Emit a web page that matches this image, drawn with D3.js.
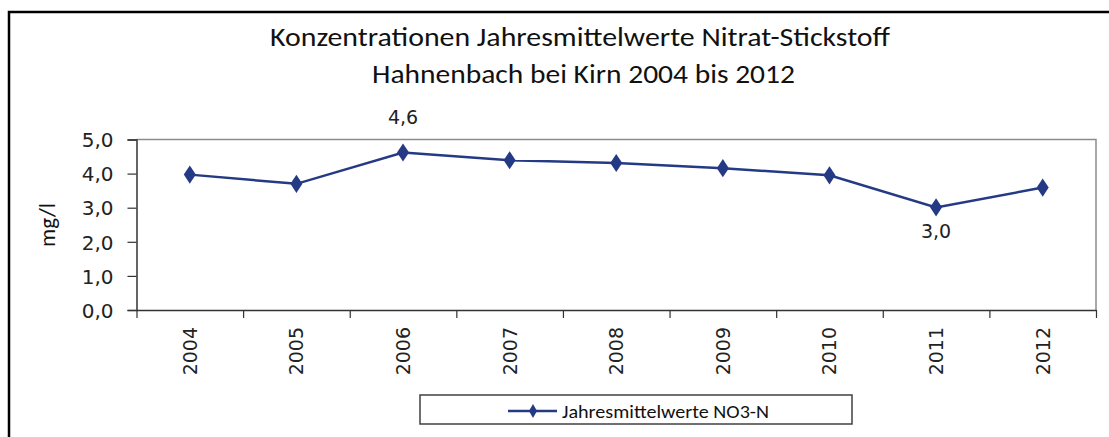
<!DOCTYPE html>
<html>
<head>
<meta charset="utf-8">
<script src="https://cdn.jsdelivr.net/npm/d3@7"></script>
<style>
  body { margin: 0; background: #fff; }
  svg { display: block; }
</style>
</head>
<body>
<svg id="chart" width="1109" height="437"></svg>
<script>
// data
const years = ["2004", "2005", "2006", "2007", "2008", "2009", "2010", "2011", "2012"];
const no3n = [3.97, 3.70, 4.62, 4.39, 4.31, 4.16, 3.95, 3.01, 3.59];
const yTicks = [0, 1, 2, 3, 4, 5];
const labelled = ["2006", "2011"]; // points with a value label
const titleLines = ["Konzentrationen Jahresmittelwerte Nitrat-Stickstoff", "Hahnenbach bei Kirn 2004 bis 2012"];
const seriesName = "Jahresmittelwerte NO3-N";

const navy = "#243a84";
const calibri = "Calibri, Carlito, 'Open Sans', sans-serif";
const verdana = "Verdana, 'DejaVu Sans', sans-serif";

const de = d3.formatLocale({ decimal: ",", thousands: ".", grouping: [3], currency: ["", " €"] });
const fmt = de.format(".1f");

const svg = d3.select("#chart");

// outer frame (right and bottom edges run off the picture)
svg.append("rect")
  .attr("x", 9).attr("y", 12)
  .attr("width", 1120).attr("height", 440)
  .attr("fill", "#fff")
  .attr("stroke", "#000")
  .attr("stroke-width", 2.5);

const plot = { left: 136.5, right: 1096, top: 139.5, bottom: 310 };

const x = d3.scaleBand().domain(years).range([plot.left, plot.right]).padding(0);
const xEdges = d3.scaleLinear().domain([0, years.length]).range([plot.left, plot.right]);
const y = d3.scaleLinear().domain([0, 5]).range([plot.bottom, plot.top]);

// title
const title = svg.append("g").attr("font-family", calibri).attr("font-size", 26).attr("fill", "#111");
title.append("text")
  .attr("x", 580).attr("y", 46)
  .attr("text-anchor", "middle")
  .attr("textLength", 620).attr("lengthAdjust", "spacingAndGlyphs")
  .text(titleLines[0]);
title.append("text")
  .attr("x", 583.5).attr("y", 83)
  .attr("text-anchor", "middle")
  .attr("textLength", 423).attr("lengthAdjust", "spacingAndGlyphs")
  .text(titleLines[1]);

// plot area frame: grey top and right
svg.append("path")
  .attr("d", `M${plot.left},${plot.top}H${plot.right}V${plot.bottom}`)
  .attr("fill", "none")
  .attr("stroke", "#8c8c8c")
  .attr("stroke-width", 1.5);

// y axis
const yAxis = svg.append("g")
  .attr("transform", `translate(${plot.left},0)`)
  .call(d3.axisLeft(y).tickValues(yTicks).tickFormat(fmt).tickSize(9).tickPadding(14));
yAxis.select(".domain").attr("stroke", "#333").attr("stroke-width", 1.5);
yAxis.selectAll(".tick line").attr("stroke", "#333").attr("stroke-width", 1.2);
yAxis.selectAll(".tick text")
  .attr("font-family", verdana).attr("font-size", 20).attr("fill", "#222")
  .attr("dy", "0.36em");

// x axis: ticks on category edges, labels at centres
const xAxis = svg.append("g")
  .attr("transform", `translate(0,${plot.bottom})`)
  .call(d3.axisBottom(xEdges).tickValues(d3.range(years.length + 1)).tickFormat("").tickSize(8).tickSizeOuter(0));
xAxis.select(".domain").attr("stroke", "#333").attr("stroke-width", 1.5);
xAxis.selectAll(".tick line").attr("stroke", "#333").attr("stroke-width", 1.2);

svg.append("g")
  .selectAll("text")
  .data(years)
  .join("text")
  .attr("transform", d => `translate(${x(d) + x.bandwidth() / 2 + 7},327) rotate(-90)`)
  .attr("text-anchor", "end")
  .attr("font-family", verdana).attr("font-size", 19).attr("fill", "#222")
  .text(d => d);

// y axis title
svg.append("text")
  .attr("transform", "translate(55,225) rotate(-90)")
  .attr("text-anchor", "middle")
  .attr("font-family", calibri).attr("font-size", 23).attr("fill", "#111")
  .attr("textLength", 44).attr("lengthAdjust", "spacingAndGlyphs")
  .text("mg/l");

// series
const pts = years.map((yr, i) => ({ year: yr, value: no3n[i] }));
const cx = d => x(d.year) + x.bandwidth() / 2;

svg.append("path")
  .datum(pts)
  .attr("fill", "none")
  .attr("stroke", navy)
  .attr("stroke-width", 2.5)
  .attr("d", d3.line().x(cx).y(d => y(d.value)));

const diamond = d3.symbol().type(d3.symbolDiamond).size(95);
svg.append("g")
  .selectAll("path")
  .data(pts)
  .join("path")
  .attr("transform", d => `translate(${cx(d)},${y(d.value)}) scale(1.15,1)`)
  .attr("d", diamond)
  .attr("fill", navy);

// value labels (max above, min below)
svg.append("g")
  .selectAll("text")
  .data(pts.filter(d => labelled.includes(d.year)))
  .join("text")
  .attr("x", cx)
  .attr("y", d => d.year === "2006" ? y(d.value) - 28 : y(d.value) + 31)
  .attr("text-anchor", "middle")
  .attr("font-family", verdana).attr("font-size", 19).attr("fill", "#222")
  .text(d => fmt(d.value));

// legend
const leg = svg.append("g");
leg.append("rect")
  .attr("x", 420).attr("y", 395)
  .attr("width", 432).attr("height", 29)
  .attr("fill", "#fff")
  .attr("stroke", "#404040")
  .attr("stroke-width", 1.5);
leg.append("line")
  .attr("x1", 508).attr("x2", 557)
  .attr("y1", 411).attr("y2", 411)
  .attr("stroke", navy).attr("stroke-width", 2.5);
leg.append("path")
  .attr("transform", "translate(533,411)")
  .attr("d", d3.symbol().type(d3.symbolDiamond).size(55))
  .attr("fill", navy);
leg.append("text")
  .attr("x", 562).attr("y", 418)
  .attr("font-family", calibri).attr("font-size", 19).attr("fill", "#111")
  .attr("textLength", 207).attr("lengthAdjust", "spacingAndGlyphs")
  .text(seriesName);
</script>
</body>
</html>
